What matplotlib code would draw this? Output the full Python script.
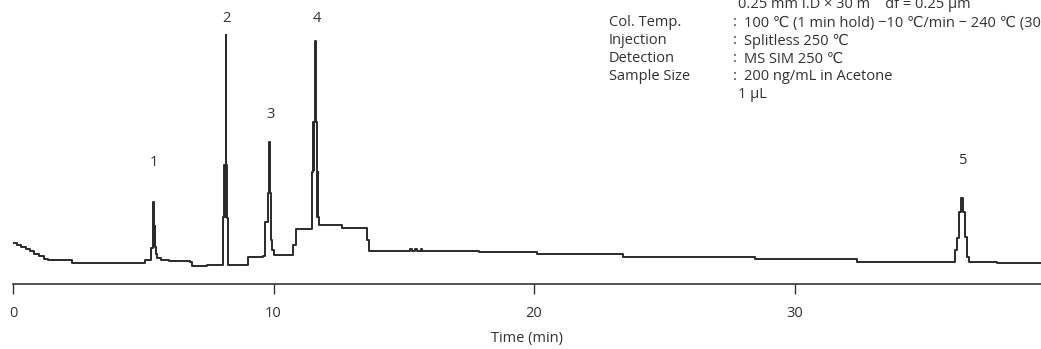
import matplotlib
matplotlib.use("Agg")
import matplotlib.pyplot as plt

plt.rcParams['font.family'] = ['Open Sans', 'DejaVu Sans']

# chromatogram trace (time in min, detector response, step-wise)
time_min = [0.00, 0.15, 0.30, 0.50, 0.65, 0.80, 1.00, 1.20, 1.35, 2.26,
            5.07, 5.30, 5.38, 5.40, 5.42, 5.43, 5.44, 5.45, 5.47, 5.52, 5.70, 6.00,
            6.80, 6.87, 7.45, 8.07, 8.10, 8.12, 8.14, 8.17, 8.19, 8.20, 8.24,
            8.25, 8.27, 9.02, 9.60, 9.69, 9.78, 9.84, 9.87, 9.89, 9.90, 9.92,
            9.94, 10.00, 10.73, 10.87, 11.49, 11.52, 11.55, 11.57, 11.60, 11.63,
            11.66, 11.68, 11.70, 11.72, 11.75, 12.63, 13.59, 13.68, 15.25, 15.30,
            15.45, 15.50, 15.65, 15.70, 17.90, 20.10, 23.40, 28.50, 32.40, 36.16,
            36.24, 36.32, 36.40, 36.47, 36.55, 36.63, 36.70, 37.77, 39.46]
response = [41, 39, 37, 35, 33, 30, 28, 25, 24, 21,
            24, 36, 82, 40, 60, 38, 58, 37, 30, 26, 24, 23,
            22, 18, 19, 67, 119, 67, 119, 249, 119, 66, 20,
            66, 19, 27, 28, 62, 91, 142, 91, 44, 91, 44,
            34, 29, 39, 55, 112, 162, 114, 162, 243, 162,
            112, 67, 112, 67, 59, 56, 44, 33, 35, 33,
            35, 33, 35, 33, 32, 30, 27.5, 25.5, 22, 34,
            46, 72, 86, 72, 47, 27, 22, 21, 21]

peak_ids = ['1', '2', '3', '4', '5']
label_time = [5.41, 8.18, 9.87, 11.67, 36.47]
label_resp = [121, 266, 169, 266, 124]

x_ticks = [0, 10, 20, 30]

cond_names = ['Col. Temp.', 'Injection', 'Detection', 'Sample Size']
cond_values = ['100 \u2103 (1 min hold) \u221210 \u2103/min \u2212 240 \u2103 (30 min hold)',
               'Splitless 250 \u2103',
               'MS SIM 250 \u2103',
               '200 ng/mL in Acetone']
column_line = '0.25 mm I.D \u00d7 30 m    df = 0.25 \u03bcm'
volume_line = '1 \u03bcL'

fs = 10.5
tc = '#333333'

fig = plt.figure(figsize=(10.41, 3.49), dpi=100)
ax = fig.add_axes([13 / 1041, 65 / 349, 1 - 13 / 1041, 284 / 349])
ax.plot(time_min, response, drawstyle='steps-post', color='#2a2a2a', lw=1.4)

for lab, t, r in zip(peak_ids, label_time, label_resp):
    ax.text(t, r, lab, ha='center', va='center', fontsize=fs, color=tc)

ax.set_xlim(0, 39.46)
ax.set_ylim(0, 284)
ax.set_xticks(x_ticks)
ax.set_yticks([])
for s in ['left', 'right', 'top']:
    ax.spines[s].set_visible(False)
ax.spines['bottom'].set_color(tc)
ax.spines['bottom'].set_linewidth(1.2)
ax.tick_params(axis='x', direction='out', length=7, width=1, color=tc,
               labelsize=fs, labelcolor=tc, pad=9)
ax.set_xlabel('Time (min)', fontsize=fs, color=tc, labelpad=7)

def fx(px):
    return px / 1041

def fy(py):
    return 1 - py / 349

fig.text(fx(738), fy(4), column_line, fontsize=fs, va='center', color=tc)
for i, (name, val) in enumerate(zip(cond_names, cond_values)):
    y = 23 + 18 * i
    fig.text(fx(609), fy(y), name, fontsize=fs, va='center', color=tc)
    fig.text(fx(733), fy(y), ':', fontsize=fs, va='center', color=tc)
    fig.text(fx(744), fy(y), val, fontsize=fs, va='center', color=tc)
fig.text(fx(738), fy(95), volume_line, fontsize=fs, va='center', color=tc)

fig.savefig('out.png', dpi=100)
